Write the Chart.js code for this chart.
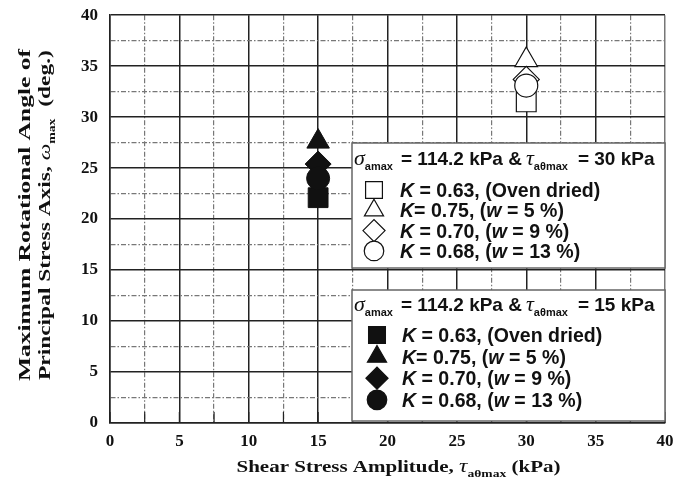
<!DOCTYPE html>
<html>
<head>
<meta charset="utf-8">
<script src="https://cdn.jsdelivr.net/npm/chart.js@4.4.1/dist/chart.umd.min.js"></script>
<style>
  html, body { margin: 0; padding: 0; background: #fff; }
  #wrap { width: 686px; height: 488px; position: relative; }
</style>
</head>
<body>
<div id="wrap"><canvas id="myChart" width="686" height="488"></canvas></div>
<script>
// shear stress amplitude of each test group (kPa)
const tauAmp = [15, 30];
// marker shape per soil condition
const shapes = ['rect', 'triangle', 'rectRot', 'circle'];
const radii = [14, 13, 13, 11.5];
// maximum rotational angle (deg.)
const angle15 = [22.1, 27.6, 25.4, 24.0]; // tau = 15 kPa, filled
const angle30 = [31.5, 35.6, 33.7, 33.1]; // tau = 30 kPa, open
// legend rows: [text, italic]
const rowLabels = [
    [['K', 1], [' = 0.63, (Oven dried)', 0]],
    [['K', 1], ['= 0.75, (', 0], ['w', 1], [' = 5 %)', 0]],
    [['K', 1], [' = 0.70, (', 0], ['w', 1], [' = 9 %)', 0]],
    [['K', 1], [' = 0.68, (', 0], ['w', 1], [' = 13 %)', 0]]
];
const xTicks = { min: 0, max: 40, step: 2.5 };
const yTicks = { min: 0, max: 40, step: 2.5 };

const SERIF = "'Liberation Serif', 'Times New Roman', serif";
const SANS = "'Liberation Sans', Arial, sans-serif";
const isMajor = v => Math.abs(v / 5 - Math.round(v / 5)) < 1e-6;

const datasets = [];
shapes.forEach((shape, i) => {
    datasets.push({
        label: '15 kPa ' + i,
        data: [{ x: tauAmp[0], y: angle15[i] }],
        pointStyle: shape,
        pointRadius: radii[i],
        backgroundColor: '#111',
        borderColor: '#111',
        borderWidth: 1,
        order: 3 - i
    });
    datasets.push({
        label: '30 kPa ' + i,
        data: [{ x: tauAmp[1], y: angle30[i] }],
        pointStyle: shape,
        pointRadius: radii[i],
        backgroundColor: '#fff',
        borderColor: '#111',
        borderWidth: 1.2,
        order: 3 - i
    });
});

function drawPt(ctx, style, r, x, y) {
    if (Chart.helpers && Chart.helpers.drawPoint) {
        Chart.helpers.drawPoint(ctx, { pointStyle: style, radius: r, rotation: 0, borderWidth: ctx.lineWidth }, x, y);
    }
}

// draws text segments [text, italic] using bold sans, returns end x
function richText(ctx, segs, x, y, size) {
    segs.forEach(([t, it]) => {
        ctx.font = (it ? 'italic ' : '') + 'bold ' + size + 'px ' + SANS;
        ctx.fillText(t, x, y);
        x += ctx.measureText(t).width;
    });
    return x;
}

function drawLegend(ctx, box, tauVal, filled) {
    ctx.save();
    ctx.fillStyle = '#fff';
    ctx.fillRect(box.x, box.y, box.w, box.h);
    ctx.strokeStyle = '#666';
    ctx.lineWidth = 1.5;
    ctx.strokeRect(box.x, box.y, box.w, box.h);

    ctx.fillStyle = '#111';
    ctx.textBaseline = 'alphabetic';
    const ty = box.y + box.titleY;
    let x = box.x + 2;
    ctx.font = 'italic 22px ' + SERIF;
    ctx.fillText('σ', x, ty);
    x += ctx.measureText('σ').width;
    ctx.font = 'bold 11px ' + SANS;
    ctx.fillText('amax', x, ty + 5);
    x += ctx.measureText('amax').width + 8;
    ctx.font = 'bold 19px ' + SANS;
    ctx.fillText('= 114.2 kPa &', x, ty);
    x += ctx.measureText('= 114.2 kPa &').width + 4;
    ctx.font = 'italic 22px ' + SERIF;
    ctx.fillText('τ', x, ty);
    x += ctx.measureText('τ').width;
    ctx.font = 'bold 11px ' + SANS;
    ctx.fillText('aθmax', x, ty + 5);
    x += ctx.measureText('aθmax').width + 10;
    ctx.font = 'bold 19px ' + SANS;
    ctx.fillText('= ' + tauVal + ' kPa', x, ty);

    rowLabels.forEach((segs, i) => {
        const by = box.y + box.rowY + i * box.rowGap;
        ctx.save();
        ctx.translate(box.x + box.textX, by);
        ctx.scale(0.93, 1);
        richText(ctx, segs, 0, 0, 21);
        ctx.restore();
        ctx.save();
        ctx.lineWidth = 1.2;
        ctx.strokeStyle = '#111';
        ctx.fillStyle = filled ? '#111' : '#fff';
        drawPt(ctx, shapes[i], radii[i] * 0.85, box.x + box.markX, by - 7);
        ctx.restore();
    });
    ctx.restore();
}

function stretchText(ctx, segs, x, y, width) {
    // segs: [text, font, dy]
    let total = 0;
    segs.forEach(s => { ctx.font = s[1]; total += ctx.measureText(s[0]).width; });
    const k = width / total;
    ctx.save();
    ctx.translate(x - width / 2, y);
    ctx.scale(k, 1);
    let cx = 0;
    segs.forEach(s => {
        ctx.font = s[1];
        ctx.fillText(s[0], cx, s[2] || 0);
        cx += ctx.measureText(s[0]).width;
    });
    ctx.restore();
}

const decorPlugin = {
    id: 'decor',
    beforeDatasetsDraw(chart) {
        const { ctx, chartArea: a, scales } = chart;
        // short inward ticks along the bottom axis
        ctx.save();
        ctx.strokeStyle = '#222';
        ctx.lineWidth = 1.2;
        scales.x.ticks.forEach(t => {
            const px = scales.x.getPixelForValue(t.value);
            ctx.beginPath();
            ctx.moveTo(px, a.bottom);
            ctx.lineTo(px, a.bottom - 11);
            ctx.stroke();
        });
        ctx.restore();
    },
    afterDraw(chart) {
        const { ctx, chartArea: a } = chart;
        drawLegend(ctx, { x: 352, y: 143, w: a.right - 352, h: 125, titleY: 22, rowY: 54, rowGap: 20.3, textX: 48, markX: 22 }, 30, false);
        drawLegend(ctx, { x: 352, y: 290, w: a.right - 352, h: 131, titleY: 21, rowY: 52, rowGap: 21.6, textX: 50, markX: 25 }, 15, true);

        // axis titles
        ctx.save();
        ctx.fillStyle = '#111';
        ctx.textBaseline = 'alphabetic';
        const bf = 'bold 17px ' + SERIF;
        const midX = (a.left + a.right) / 2;
        stretchText(ctx, [
            ['Shear Stress Amplitude, ', bf],
            ['τ', 'italic 19px ' + SERIF],
            ['aθmax', 'bold 11px ' + SERIF, 5],
            [' (kPa)', bf]
        ], midX + 11, 472, 324);

        const midY = (a.top + a.bottom) / 2;
        ctx.translate(0, midY);
        ctx.rotate(-Math.PI / 2);
        stretchText(ctx, [['Maximum Rotational Angle of', bf]], 4, 30, 332);
        stretchText(ctx, [
            ['Principal Stress Axis, ', bf],
            ['ω', 'italic 17px ' + SERIF],
            ['max', 'bold 10px ' + SERIF, 5],
            ['  (deg.)', bf]
        ], 4, 50, 330);
        ctx.restore();
    }
};

const gridColor = c => (c.tick && isMajor(c.tick.value)) ? '#222' : '#777';

new Chart(document.getElementById('myChart').getContext('2d'), {
    type: 'scatter',
    data: { datasets },
    options: {
        responsive: false,
        animation: false,
        layout: { padding: { left: 0, right: 21, top: 13, bottom: 0 } },
        plugins: { legend: { display: false }, tooltip: { enabled: false } },
        scales: {
            x: {
                type: 'linear',
                min: xTicks.min, max: xTicks.max,
                afterFit: s => { s.height = 65; s.paddingLeft = 0; s.paddingRight = 0; },
                afterBuildTicks: s => {
                    s.ticks = [];
                    for (let v = xTicks.min; v <= xTicks.max + 1e-9; v += xTicks.step) s.ticks.push({ value: v });
                },
                ticks: {
                    autoSkip: false, maxRotation: 0, padding: 8, color: '#111',
                    font: { family: SERIF, size: 17, weight: 'bold' },
                    callback: v => isMajor(v) ? String(Math.round(v)) : ''
                },
                grid: {
                    drawTicks: false,
                    color: c => (c.tick && c.tick.value === xTicks.max) ? '#777' : gridColor(c),
                    lineWidth: c => (c.tick && isMajor(c.tick.value)) ? 1.5 : 1.2
                },
                border: {
                    display: true, color: '#222', width: 1.5,
                    dash: c => (c.tick && !isMajor(c.tick.value)) ? [5, 2, 1.5, 2] : []
                }
            },
            y: {
                type: 'linear',
                min: yTicks.min, max: yTicks.max,
                afterFit: s => { s.width = 110; s.paddingTop = 0; s.paddingBottom = 0; },
                afterBuildTicks: s => {
                    s.ticks = [];
                    for (let v = yTicks.min; v <= yTicks.max + 1e-9; v += yTicks.step) s.ticks.push({ value: v });
                },
                ticks: {
                    autoSkip: false, padding: 12, color: '#111',
                    font: { family: SERIF, size: 17, weight: 'bold' },
                    callback: v => isMajor(v) ? String(Math.round(v)) : ''
                },
                grid: {
                    drawTicks: false,
                    color: gridColor,
                    lineWidth: c => (c.tick && isMajor(c.tick.value)) ? 1.5 : 1.2
                },
                border: {
                    display: true, color: '#222', width: 1.5,
                    dash: c => (c.tick && !isMajor(c.tick.value)) ? [5, 2, 1.5, 2] : []
                }
            }
        }
    },
    plugins: [decorPlugin]
});
</script>
</body>
</html>
